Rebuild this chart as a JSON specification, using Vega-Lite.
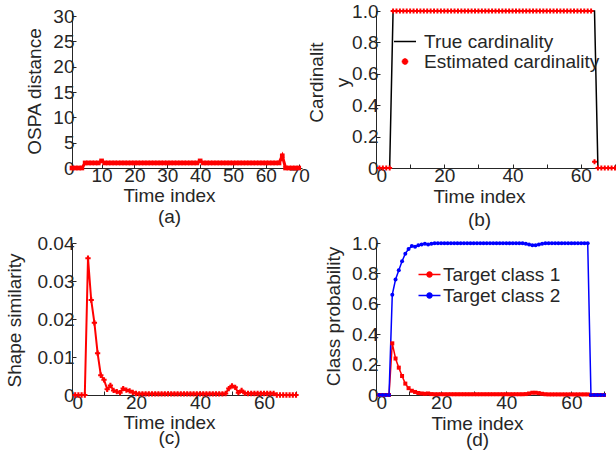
{
  "$schema": "https://vega.github.io/schema/vega-lite/v6.json",
  "padding": {"left": 5, "top": 2, "right": 5, "bottom": 5},
  "background": "white",
  "config": {
    "view": {"stroke": null},
    "font": "Liberation Sans",
    "axis": {
      "domainColor": "#262626", "tickColor": "#262626", "labelColor": "#262626", "titleColor": "#262626",
      "labelFont": "Liberation Sans", "titleFont": "Liberation Sans", "labelFontSize": 19, "titleFontSize": 19,
      "titleFontWeight": "normal", "grid": false, "tickSize": -4, "labelPadding": 2, "domainWidth": 1
    },
    "legend": {"labelFont": "Liberation Sans", "labelFontSize": 19, "labelColor": "#262626"}
  },
  "datasets": {
    "a": [
      {"t":1,"v":0},{"t":2,"v":0},{"t":3,"v":0},{"t":4,"v":0},{"t":5,"v":1.0},{"t":6,"v":1.0},{"t":7,"v":1.0},{"t":8,"v":1.0},{"t":9,"v":1.0},{"t":10,"v":1.4},
      {"t":11,"v":1.0},{"t":12,"v":1.0},{"t":13,"v":1.0},{"t":14,"v":1.0},{"t":15,"v":1.0},{"t":16,"v":1.0},{"t":17,"v":1.0},{"t":18,"v":1.0},{"t":19,"v":1.0},{"t":20,"v":1.0},
      {"t":21,"v":1.0},{"t":22,"v":1.0},{"t":23,"v":1.0},{"t":24,"v":1.0},{"t":25,"v":1.0},{"t":26,"v":1.0},{"t":27,"v":1.0},{"t":28,"v":1.0},{"t":29,"v":1.0},{"t":30,"v":1.0},
      {"t":31,"v":1.0},{"t":32,"v":1.0},{"t":33,"v":1.0},{"t":34,"v":1.0},{"t":35,"v":1.0},{"t":36,"v":1.0},{"t":37,"v":1.0},{"t":38,"v":1.0},{"t":39,"v":1.0},{"t":40,"v":1.4},
      {"t":41,"v":1.0},{"t":42,"v":1.0},{"t":43,"v":1.0},{"t":44,"v":1.0},{"t":45,"v":1.0},{"t":46,"v":1.0},{"t":47,"v":1.0},{"t":48,"v":1.0},{"t":49,"v":1.0},{"t":50,"v":1.0},
      {"t":51,"v":1.0},{"t":52,"v":1.0},{"t":53,"v":1.0},{"t":54,"v":1.0},{"t":55,"v":1.0},{"t":56,"v":1.0},{"t":57,"v":1.0},{"t":58,"v":1.0},{"t":59,"v":1.0},{"t":60,"v":1.0},
      {"t":61,"v":1.0},{"t":62,"v":1.0},{"t":63,"v":1.0},{"t":64,"v":1.0},{"t":65,"v":2.4},{"t":66,"v":0},{"t":67,"v":0},{"t":68,"v":0},{"t":69,"v":0},{"t":70,"v":0}
    ],
    "b": [
      {"t":1,"v":0,"s":"True cardinality"},{"t":4,"v":0,"s":"True cardinality"},{"t":5,"v":1,"s":"True cardinality"},{"t":64,"v":1,"s":"True cardinality"},{"t":65,"v":0,"s":"True cardinality"},{"t":70,"v":0,"s":"True cardinality"},
      {"t":1,"v":0,"s":"Estimated cardinality"},{"t":2,"v":0,"s":"Estimated cardinality"},{"t":3,"v":0,"s":"Estimated cardinality"},{"t":4,"v":0,"s":"Estimated cardinality"},
      {"t":5,"v":1,"s":"Estimated cardinality"},{"t":6,"v":1,"s":"Estimated cardinality"},{"t":7,"v":1,"s":"Estimated cardinality"},{"t":8,"v":1,"s":"Estimated cardinality"},{"t":9,"v":1,"s":"Estimated cardinality"},
      {"t":10,"v":1,"s":"Estimated cardinality"},{"t":11,"v":1,"s":"Estimated cardinality"},{"t":12,"v":1,"s":"Estimated cardinality"},{"t":13,"v":1,"s":"Estimated cardinality"},{"t":14,"v":1,"s":"Estimated cardinality"},
      {"t":15,"v":1,"s":"Estimated cardinality"},{"t":16,"v":1,"s":"Estimated cardinality"},{"t":17,"v":1,"s":"Estimated cardinality"},{"t":18,"v":1,"s":"Estimated cardinality"},{"t":19,"v":1,"s":"Estimated cardinality"},
      {"t":20,"v":1,"s":"Estimated cardinality"},{"t":21,"v":1,"s":"Estimated cardinality"},{"t":22,"v":1,"s":"Estimated cardinality"},{"t":23,"v":1,"s":"Estimated cardinality"},{"t":24,"v":1,"s":"Estimated cardinality"},
      {"t":25,"v":1,"s":"Estimated cardinality"},{"t":26,"v":1,"s":"Estimated cardinality"},{"t":27,"v":1,"s":"Estimated cardinality"},{"t":28,"v":1,"s":"Estimated cardinality"},{"t":29,"v":1,"s":"Estimated cardinality"},
      {"t":30,"v":1,"s":"Estimated cardinality"},{"t":31,"v":1,"s":"Estimated cardinality"},{"t":32,"v":1,"s":"Estimated cardinality"},{"t":33,"v":1,"s":"Estimated cardinality"},{"t":34,"v":1,"s":"Estimated cardinality"},
      {"t":35,"v":1,"s":"Estimated cardinality"},{"t":36,"v":1,"s":"Estimated cardinality"},{"t":37,"v":1,"s":"Estimated cardinality"},{"t":38,"v":1,"s":"Estimated cardinality"},{"t":39,"v":1,"s":"Estimated cardinality"},
      {"t":40,"v":1,"s":"Estimated cardinality"},{"t":41,"v":1,"s":"Estimated cardinality"},{"t":42,"v":1,"s":"Estimated cardinality"},{"t":43,"v":1,"s":"Estimated cardinality"},{"t":44,"v":1,"s":"Estimated cardinality"},
      {"t":45,"v":1,"s":"Estimated cardinality"},{"t":46,"v":1,"s":"Estimated cardinality"},{"t":47,"v":1,"s":"Estimated cardinality"},{"t":48,"v":1,"s":"Estimated cardinality"},{"t":49,"v":1,"s":"Estimated cardinality"},
      {"t":50,"v":1,"s":"Estimated cardinality"},{"t":51,"v":1,"s":"Estimated cardinality"},{"t":52,"v":1,"s":"Estimated cardinality"},{"t":53,"v":1,"s":"Estimated cardinality"},{"t":54,"v":1,"s":"Estimated cardinality"},
      {"t":55,"v":1,"s":"Estimated cardinality"},{"t":56,"v":1,"s":"Estimated cardinality"},{"t":57,"v":1,"s":"Estimated cardinality"},{"t":58,"v":1,"s":"Estimated cardinality"},{"t":59,"v":1,"s":"Estimated cardinality"},
      {"t":60,"v":1,"s":"Estimated cardinality"},{"t":61,"v":1,"s":"Estimated cardinality"},{"t":62,"v":1,"s":"Estimated cardinality"},{"t":63,"v":1,"s":"Estimated cardinality"},{"t":64,"v":0.04,"s":"Estimated cardinality"},
      {"t":65,"v":0,"s":"Estimated cardinality"},{"t":66,"v":0,"s":"Estimated cardinality"},{"t":67,"v":0,"s":"Estimated cardinality"},{"t":68,"v":0,"s":"Estimated cardinality"},{"t":69,"v":0,"s":"Estimated cardinality"},{"t":70,"v":0,"s":"Estimated cardinality"}
    ],
    "c": [
      {"t":1,"v":0},{"t":2,"v":0},{"t":3,"v":0},{"t":4,"v":0},{"t":5,"v":0.036},{"t":6,"v":0.025},{"t":7,"v":0.019},{"t":8,"v":0.011},{"t":9,"v":0.0052},{"t":10,"v":0.004},
      {"t":11,"v":0.0015},{"t":12,"v":0.0025},{"t":13,"v":0.0012},{"t":14,"v":0.0009},{"t":15,"v":0.0006},{"t":16,"v":0.0017},{"t":17,"v":0.0013},{"t":18,"v":0.0011},{"t":19,"v":0.0007},{"t":20,"v":0.0004},
      {"t":21,"v":0.0003},{"t":22,"v":0.0003},{"t":23,"v":0.0003},{"t":24,"v":0.0003},{"t":25,"v":0.0003},{"t":26,"v":0.0003},{"t":27,"v":0.0003},{"t":28,"v":0.0003},{"t":29,"v":0.0003},{"t":30,"v":0.0003},
      {"t":31,"v":0.0003},{"t":32,"v":0.0003},{"t":33,"v":0.0003},{"t":34,"v":0.0003},{"t":35,"v":0.0003},{"t":36,"v":0.0003},{"t":37,"v":0.0003},{"t":38,"v":0.0003},{"t":39,"v":0.0003},{"t":40,"v":0.0003},
      {"t":41,"v":0.0003},{"t":42,"v":0.0003},{"t":43,"v":0.0003},{"t":44,"v":0.0003},{"t":45,"v":0.0003},{"t":46,"v":0.0003},{"t":47,"v":0.0003},{"t":48,"v":0.0004},{"t":49,"v":0.0017},{"t":50,"v":0.0024},
      {"t":51,"v":0.002},{"t":52,"v":0.0006},{"t":53,"v":0.0012},{"t":54,"v":0.0005},{"t":55,"v":0.0004},{"t":56,"v":0.0004},{"t":57,"v":0.0004},{"t":58,"v":0.0004},{"t":59,"v":0.0004},{"t":60,"v":0.0004},
      {"t":61,"v":0.0004},{"t":62,"v":0.0004},{"t":63,"v":0.0004},{"t":64,"v":0},{"t":65,"v":0},{"t":66,"v":0},{"t":67,"v":0},{"t":68,"v":0},{"t":69,"v":0},{"t":70,"v":0}
    ],
    "d": [
      {"t":1,"v":0,"s":"Target class 1"},{"t":2,"v":0,"s":"Target class 1"},{"t":3,"v":0,"s":"Target class 1"},{"t":4,"v":0,"s":"Target class 1"},{"t":5,"v":0.34,"s":"Target class 1"},
      {"t":6,"v":0.24,"s":"Target class 1"},{"t":7,"v":0.18,"s":"Target class 1"},{"t":8,"v":0.125,"s":"Target class 1"},{"t":9,"v":0.075,"s":"Target class 1"},{"t":10,"v":0.045,"s":"Target class 1"},
      {"t":11,"v":0.028,"s":"Target class 1"},{"t":12,"v":0.02,"s":"Target class 1"},{"t":13,"v":0.013,"s":"Target class 1"},{"t":14,"v":0.01,"s":"Target class 1"},{"t":15,"v":0.008,"s":"Target class 1"},
      {"t":16,"v":0.01,"s":"Target class 1"},{"t":17,"v":0.006,"s":"Target class 1"},{"t":18,"v":0.005,"s":"Target class 1"},{"t":19,"v":0.005,"s":"Target class 1"},{"t":20,"v":0.005,"s":"Target class 1"},
      {"t":21,"v":0.005,"s":"Target class 1"},{"t":22,"v":0.005,"s":"Target class 1"},{"t":23,"v":0.005,"s":"Target class 1"},{"t":24,"v":0.005,"s":"Target class 1"},{"t":25,"v":0.005,"s":"Target class 1"},
      {"t":26,"v":0.005,"s":"Target class 1"},{"t":27,"v":0.005,"s":"Target class 1"},{"t":28,"v":0.005,"s":"Target class 1"},{"t":29,"v":0.005,"s":"Target class 1"},{"t":30,"v":0.005,"s":"Target class 1"},
      {"t":31,"v":0.005,"s":"Target class 1"},{"t":32,"v":0.005,"s":"Target class 1"},{"t":33,"v":0.005,"s":"Target class 1"},{"t":34,"v":0.005,"s":"Target class 1"},{"t":35,"v":0.005,"s":"Target class 1"},
      {"t":36,"v":0.005,"s":"Target class 1"},{"t":37,"v":0.005,"s":"Target class 1"},{"t":38,"v":0.005,"s":"Target class 1"},{"t":39,"v":0.005,"s":"Target class 1"},{"t":40,"v":0.005,"s":"Target class 1"},
      {"t":41,"v":0.005,"s":"Target class 1"},{"t":42,"v":0.005,"s":"Target class 1"},{"t":43,"v":0.005,"s":"Target class 1"},{"t":44,"v":0.005,"s":"Target class 1"},{"t":45,"v":0.005,"s":"Target class 1"},
      {"t":46,"v":0.006,"s":"Target class 1"},{"t":47,"v":0.01,"s":"Target class 1"},{"t":48,"v":0.015,"s":"Target class 1"},{"t":49,"v":0.015,"s":"Target class 1"},{"t":50,"v":0.012,"s":"Target class 1"},
      {"t":51,"v":0.008,"s":"Target class 1"},{"t":52,"v":0.005,"s":"Target class 1"},{"t":53,"v":0.004,"s":"Target class 1"},{"t":54,"v":0.004,"s":"Target class 1"},{"t":55,"v":0.004,"s":"Target class 1"},
      {"t":56,"v":0.004,"s":"Target class 1"},{"t":57,"v":0.004,"s":"Target class 1"},{"t":58,"v":0.004,"s":"Target class 1"},{"t":59,"v":0.004,"s":"Target class 1"},{"t":60,"v":0.004,"s":"Target class 1"},
      {"t":61,"v":0.004,"s":"Target class 1"},{"t":62,"v":0.004,"s":"Target class 1"},{"t":63,"v":0.004,"s":"Target class 1"},{"t":64,"v":0.004,"s":"Target class 1"},{"t":65,"v":0.004,"s":"Target class 1"},
      {"t":66,"v":0,"s":"Target class 1"},{"t":67,"v":0,"s":"Target class 1"},{"t":68,"v":0,"s":"Target class 1"},{"t":69,"v":0,"s":"Target class 1"},{"t":70,"v":0,"s":"Target class 1"},
      {"t":1,"v":0,"s":"Target class 2"},{"t":2,"v":0,"s":"Target class 2"},{"t":3,"v":0,"s":"Target class 2"},{"t":4,"v":0,"s":"Target class 2"},{"t":5,"v":0.66,"s":"Target class 2"},
      {"t":6,"v":0.76,"s":"Target class 2"},{"t":7,"v":0.82,"s":"Target class 2"},{"t":8,"v":0.88,"s":"Target class 2"},{"t":9,"v":0.93,"s":"Target class 2"},{"t":10,"v":0.96,"s":"Target class 2"},
      {"t":11,"v":0.98,"s":"Target class 2"},{"t":12,"v":0.975,"s":"Target class 2"},{"t":13,"v":0.985,"s":"Target class 2"},{"t":14,"v":0.99,"s":"Target class 2"},{"t":15,"v":0.995,"s":"Target class 2"},
      {"t":16,"v":0.99,"s":"Target class 2"},{"t":17,"v":0.995,"s":"Target class 2"},{"t":18,"v":0.998,"s":"Target class 2"},{"t":19,"v":0.998,"s":"Target class 2"},{"t":20,"v":0.998,"s":"Target class 2"},
      {"t":21,"v":0.998,"s":"Target class 2"},{"t":22,"v":0.998,"s":"Target class 2"},{"t":23,"v":0.998,"s":"Target class 2"},{"t":24,"v":0.998,"s":"Target class 2"},{"t":25,"v":0.998,"s":"Target class 2"},
      {"t":26,"v":0.998,"s":"Target class 2"},{"t":27,"v":0.998,"s":"Target class 2"},{"t":28,"v":0.998,"s":"Target class 2"},{"t":29,"v":0.998,"s":"Target class 2"},{"t":30,"v":0.998,"s":"Target class 2"},
      {"t":31,"v":0.998,"s":"Target class 2"},{"t":32,"v":0.998,"s":"Target class 2"},{"t":33,"v":0.998,"s":"Target class 2"},{"t":34,"v":0.998,"s":"Target class 2"},{"t":35,"v":0.998,"s":"Target class 2"},
      {"t":36,"v":0.998,"s":"Target class 2"},{"t":37,"v":0.998,"s":"Target class 2"},{"t":38,"v":0.998,"s":"Target class 2"},{"t":39,"v":0.998,"s":"Target class 2"},{"t":40,"v":0.998,"s":"Target class 2"},
      {"t":41,"v":0.998,"s":"Target class 2"},{"t":42,"v":0.998,"s":"Target class 2"},{"t":43,"v":0.998,"s":"Target class 2"},{"t":44,"v":0.998,"s":"Target class 2"},{"t":45,"v":0.998,"s":"Target class 2"},
      {"t":46,"v":0.995,"s":"Target class 2"},{"t":47,"v":0.99,"s":"Target class 2"},{"t":48,"v":0.985,"s":"Target class 2"},{"t":49,"v":0.985,"s":"Target class 2"},{"t":50,"v":0.99,"s":"Target class 2"},
      {"t":51,"v":0.995,"s":"Target class 2"},{"t":52,"v":0.998,"s":"Target class 2"},{"t":53,"v":0.998,"s":"Target class 2"},{"t":54,"v":0.998,"s":"Target class 2"},{"t":55,"v":0.998,"s":"Target class 2"},
      {"t":56,"v":0.998,"s":"Target class 2"},{"t":57,"v":0.998,"s":"Target class 2"},{"t":58,"v":0.998,"s":"Target class 2"},{"t":59,"v":0.998,"s":"Target class 2"},{"t":60,"v":0.998,"s":"Target class 2"},
      {"t":61,"v":0.998,"s":"Target class 2"},{"t":62,"v":0.998,"s":"Target class 2"},{"t":63,"v":0.998,"s":"Target class 2"},{"t":64,"v":0.998,"s":"Target class 2"},{"t":65,"v":0.998,"s":"Target class 2"},
      {"t":66,"v":0,"s":"Target class 2"},{"t":67,"v":0,"s":"Target class 2"},{"t":68,"v":0,"s":"Target class 2"},{"t":69,"v":0,"s":"Target class 2"},{"t":70,"v":0,"s":"Target class 2"}
    ]
  },
  "bounds": "flush",
  "columns": 2,
  "spacing": {"row": 75, "column": 74},
  "resolve": {
    "scale": {"x": "independent", "y": "independent", "color": "independent", "shape": "independent"},
    "axis": {"x": "independent", "y": "independent"},
    "legend": {"color": "independent", "shape": "independent"}
  },
  "concat": [
    {
      "width": 230, "height": 157,
      "data": {"name": "a"},
      "encoding": {
        "x": {"field": "t", "type": "quantitative", "scale": {"domain": [1, 71], "nice": false, "zero": false},
          "axis": {"values": [10, 20, 30, 40, 50, 60, 70], "title": ["Time index", "(a)"], "titleLineHeight": 21, "titleX": 97, "titleY": 18, "titleBaseline": "top", "titleAlign": "center"}},
        "y": {"field": "v", "type": "quantitative", "scale": {"domain": [0, 31], "nice": false},
          "axis": {"values": [0, 5, 10, 15, 20, 25, 30], "title": "OSPA distance", "titleX": -47, "titleY": 80, "titleBaseline": "top", "titleAlign": "center", "titleAngle": 270}}
      },
      "layer": [
        {"mark": {"type": "line", "color": "red", "strokeWidth": 3}},
        {"mark": {"type": "point", "shape": "square", "filled": true, "color": "red", "size": 22, "opacity": 1}}
      ]
    },
    {
      "width": 239, "height": 157,
      "data": {"name": "b"},
      "encoding": {
        "x": {"field": "t", "type": "quantitative", "scale": {"domain": [0, 70], "nice": false, "zero": false},
          "axis": {"values": [0, 10, 20, 30, 40, 50, 60, 70], "labelExpr": "datum.value % 20 == 0 ? datum.label : ''", "title": ["Time index", "(b)"], "titleLineHeight": 23, "titleX": 103, "titleY": 19, "titleBaseline": "top", "titleAlign": "center"}},
        "y": {"field": "v", "type": "quantitative", "scale": {"domain": [0, 1], "nice": false},
          "axis": {"values": [0, 0.2, 0.4, 0.6, 0.8, 1], "labelExpr": "datum.value == 0 ? '0' : format(datum.value, '.1f')", "title": ["Cardinalit", "y"], "titleLineHeight": 26, "titleX": -69, "titleY": 71, "titleBaseline": "top", "titleAlign": "center", "titleAngle": 270}},
        "color": {"field": "s", "type": "nominal", "scale": {"domain": ["True cardinality", "Estimated cardinality"], "range": ["black", "red"]},
          "legend": {"title": null, "orient": "none", "legendX": 19.5, "legendY": 21, "symbolSize": 121, "labelOffset": 9.5, "rowPadding": 0, "padding": 0, "labelLimit": 300, "symbolOpacity": 1,
            "encode": {"symbols": {"update": {
              "shape": {"signal": "datum.value === 'True cardinality' ? 'M-2,0H2' : 'M-0.6,0H0.6M0,-0.6V0.6M-0.4,-0.4L0.4,0.4M-0.4,0.4L0.4,-0.4'"},
              "stroke": {"signal": "datum.value === 'True cardinality' ? 'black' : 'red'"},
              "fill": {"value": "transparent"},
              "strokeWidth": {"signal": "datum.value === 'True cardinality' ? 1.5 : 2"}
            }}}}}
      },
      "layer": [
        {"transform": [{"filter": "datum.s === 'True cardinality'"}], "mark": {"type": "line", "strokeWidth": 1.5}},
        {"transform": [{"filter": "datum.s === 'Estimated cardinality'"}], "mark": {"type": "point", "shape": "cross", "filled": true, "size": 24, "opacity": 1}}
      ]
    },
    {
      "width": 224, "height": 152,
      "data": {"name": "c"},
      "encoding": {
        "x": {"field": "t", "type": "quantitative", "scale": {"domain": [0, 70], "nice": false, "zero": false},
          "axis": {"values": [0, 10, 20, 30, 40, 50, 60, 70], "labelExpr": "datum.value % 20 == 0 ? datum.label : ''", "title": ["Time index", "(c)"], "titleLineHeight": 15, "titleX": 97, "titleY": 18, "titleBaseline": "top", "titleAlign": "center"}},
        "y": {"field": "v", "type": "quantitative", "scale": {"domain": [0, 0.04], "nice": false},
          "axis": {"values": [0, 0.01, 0.02, 0.03, 0.04], "labelExpr": "datum.value == 0 ? '0' : format(datum.value, '.2f')", "title": "Shape similarity", "titleX": -67, "titleY": 77, "titleBaseline": "top", "titleAlign": "center", "titleAngle": 270}}
      },
      "layer": [
        {"mark": {"type": "line", "color": "red", "strokeWidth": 2}},
        {"mark": {"type": "point", "shape": "cross", "filled": true, "color": "red", "size": 28, "opacity": 1}}
      ]
    },
    {
      "width": 228, "height": 152,
      "data": {"name": "d"},
      "encoding": {
        "x": {"field": "t", "type": "quantitative", "scale": {"domain": [0, 70], "nice": false, "zero": false},
          "axis": {"values": [0, 10, 20, 30, 40, 50, 60, 70], "labelExpr": "datum.value % 20 == 0 ? datum.label : ''", "title": ["Time index", "(d)"], "titleLineHeight": 16, "titleX": 101, "titleY": 19, "titleBaseline": "top", "titleAlign": "center"}},
        "y": {"field": "v", "type": "quantitative", "scale": {"domain": [0, 1], "nice": false},
          "axis": {"values": [0, 0.2, 0.4, 0.6, 0.8, 1], "labelExpr": "datum.value == 0 ? '0' : format(datum.value, '.1f')", "title": "Class probability", "titleX": -52, "titleY": 73, "titleBaseline": "top", "titleAlign": "center", "titleAngle": 270}},
        "color": {"field": "s", "type": "nominal", "scale": {"domain": ["Target class 1", "Target class 2"], "range": ["red", "blue"]},
          "legend": {"title": null, "orient": "none", "legendX": 44, "legendY": 22, "padding": 0, "rowPadding": 1, "labelLimit": 300, "symbolOpacity": 1,
            "symbolType": "M-2,0H2M-0.45,0A0.45,0.45 0 1 1 0.45,0A0.45,0.45 0 1 1 -0.45,0", "symbolSize": 121, "symbolStrokeWidth": 1.5}}
      },
      "layer": [
        {"mark": {"type": "line", "strokeWidth": 1.5}},
        {"transform": [{"filter": "datum.s === 'Target class 1'"}], "mark": {"type": "point", "shape": "square", "filled": true, "size": 16, "opacity": 1}},
        {"transform": [{"filter": "datum.s === 'Target class 2'"}], "mark": {"type": "point", "shape": "circle", "filled": true, "size": 16, "opacity": 1}}
      ]
    }
  ]
}
